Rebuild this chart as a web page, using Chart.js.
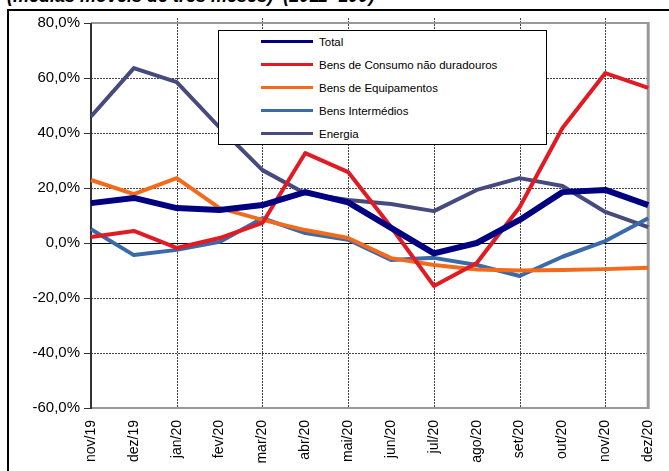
<!DOCTYPE html>
<html>
<head>
<meta charset="utf-8">
<script src="https://cdn.jsdelivr.net/npm/chart.js@4"></script>
<style>
  html,body{margin:0;padding:0;background:#fff;overflow:hidden;}
  #wrap{position:relative;width:669px;height:471px;}
  #title{position:absolute;left:7px;top:-14px;font:bold italic 18px "Liberation Sans",Arial,sans-serif;white-space:nowrap;color:#000;}
  #frame{position:absolute;left:7px;top:9px;width:680px;height:480px;border:2px solid #000;box-sizing:border-box;}
  canvas{position:absolute;left:0;top:0;}
  #legend{position:absolute;left:218px;top:30px;width:329px;height:115px;border:1px solid #000;background:#fff;box-sizing:border-box;
    font:11.5px "Liberation Sans",Arial,sans-serif;color:#000;}
  #legend div{position:absolute;left:42px;height:14px;line-height:14px;}
  #legend span{display:inline-block;width:52px;height:3px;vertical-align:middle;margin-right:6px;position:relative;top:-1px;}
</style>
</head>
<body>
<div id="wrap">
  <div id="title">(médias móveis de três meses)&nbsp; (2011=100)</div>
  <div id="frame"></div>
  <canvas id="c" width="669" height="471"></canvas>
  <div id="legend"></div>
</div>
<script>
const months = ['nov/19','dez/19','jan/20','fev/20','mar/20','abr/20','mai/20','jun/20','jul/20','ago/20','set/20','out/20','nov/20','dez/20'];
const total      = [14.5, 16.4, 12.7, 12.0, 13.8, 18.5, 14.8, 5.5, -3.8, 0.0, 8.4, 18.5, 19.3, 13.8];
const consumo    = [2.2, 4.4, -1.8, 1.8, 7.3, 32.7, 25.8, 5.8, -15.6, -7.3, 13.0, 41.8, 61.8, 56.4];
const equip      = [22.9, 17.8, 23.6, 12.7, 8.4, 4.7, 1.8, -5.5, -8.0, -9.6, -10.0, -9.8, -9.5, -9.0];
const intermed   = [5.0, -4.4, -2.5, 0.4, 9.0, 3.6, 1.2, -6.2, -5.4, -8.0, -12.0, -5.0, 0.7, 9.0];
const energia    = [46.0, 63.6, 58.5, 42.0, 26.5, 18.0, 15.6, 14.2, 11.6, 19.3, 23.6, 20.7, 11.3, 5.8];
const yTicks = [80,60,40,20,0,-20,-40,-60];

const series = [
  {label:'Total', data:total, color:'#000080', width:6},
  {label:'Bens de Consumo não duradouros', data:consumo, color:'#e01b24', width:4},
  {label:'Bens de Equipamentos', data:equip, color:'#f26a1b', width:4},
  {label:'Bens Intermédios', data:intermed, color:'#3a6aa8', width:4},
  {label:'Energia', data:energia, color:'#474a7c', width:4}
];

// legend (html)
const leg=document.getElementById('legend');
series.forEach((s,i)=>{
  const d=document.createElement('div');
  d.style.top=(4+i*23)+'px';
  d.innerHTML=`<span style="background:${s.color}"></span>${s.label}`;
  leg.appendChild(d);
});

// grid + plot frame
const gridPlugin={
  id:'grid',
  beforeDatasetsDraw(chart){
    const {ctx,chartArea:a,scales:{x,y}}=chart;
    ctx.save();
    ctx.lineWidth=1;
    ctx.strokeStyle='#444';
    ctx.setLineDash([2,1]);
    yTicks.forEach(v=>{
      if(v===0||v===80||v===-60) return;
      const py=Math.round(y.getPixelForValue(v))+0.5;
      ctx.beginPath();ctx.moveTo(a.left,py);ctx.lineTo(a.right,py);ctx.stroke();
    });
    months.forEach((m,i)=>{
      if(i%2||i===0) return;
      const px=Math.round(x.getPixelForValue(i))+0.5;
      ctx.beginPath();ctx.moveTo(px,a.top-5);ctx.lineTo(px,a.bottom);ctx.stroke();
    });
    ctx.setLineDash([]);
    ctx.strokeStyle='#000';
    const z=Math.round(y.getPixelForValue(0))+0.5;
    ctx.beginPath();ctx.moveTo(a.left,z);ctx.lineTo(a.right,z);ctx.stroke();
    ctx.strokeStyle='#999';
    ctx.lineWidth=2;
    ctx.beginPath();ctx.moveTo(a.left,a.top);ctx.lineTo(a.right,a.top);ctx.stroke();
    ctx.beginPath();ctx.moveTo(a.left,a.bottom);ctx.lineTo(a.right,a.bottom);ctx.stroke();
    ctx.lineWidth=3;
    ctx.beginPath();ctx.moveTo(a.right,a.top-1);ctx.lineTo(a.right,a.bottom+1);ctx.stroke();
    ctx.strokeStyle='#333';
    ctx.lineWidth=2;
    ctx.beginPath();ctx.moveTo(a.left,a.top);ctx.lineTo(a.left,a.bottom+1);ctx.stroke();
    ctx.restore();
  }
};

new Chart(document.getElementById('c'),{
  type:'line',
  data:{
    labels:months,
    datasets:series.map(s=>({label:s.label,data:s.data,borderColor:s.color,backgroundColor:s.color,
      borderWidth:s.width,pointRadius:0,tension:0,fill:false,borderJoinStyle:'round'}))
  },
  options:{
    responsive:false,animation:false,
    layout:{padding:{left:0,right:20,top:23,bottom:0}},
    plugins:{legend:{display:false},tooltip:{enabled:false}},
    scales:{
      x:{
        offset:false,
        grid:{display:false},border:{display:false},
        ticks:{autoSkip:false,minRotation:90,maxRotation:90,padding:4,color:'#000',
          font:{family:'"Liberation Sans", Arial, sans-serif',size:14}},
        afterFit:s=>{s.height=63;}
      },
      y:{
        min:-60,max:80,
        afterBuildTicks:s=>{s.ticks=yTicks.map(v=>({value:v}));},
        grid:{drawOnChartArea:false,drawTicks:true,tickLength:7,color:'#333'},
        border:{display:false},
        ticks:{padding:4,color:'#000',font:{family:'"Liberation Sans", Arial, sans-serif',size:15},
          callback:v=>v.toFixed(1).replace('.',',')+'%'},
        afterFit:s=>{s.width=91;}
      }
    }
  },
  plugins:[gridPlugin]
});
</script>
</body>
</html>
